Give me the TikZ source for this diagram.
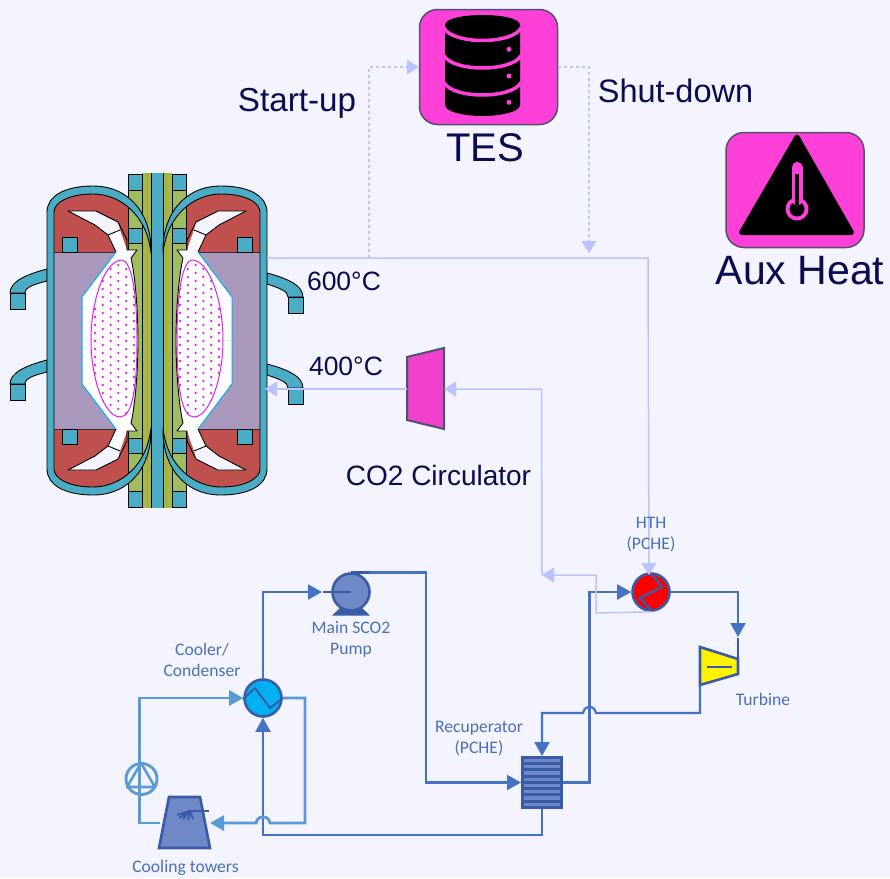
\documentclass[tikz,border=0pt]{standalone}
\usepackage{fontspec}
\setmainfont{Liberation Sans}
\newfontfamily\lblfont{Carlito}
\usetikzlibrary{arrows.meta}
\definecolor{bgc}{HTML}{F4F4FF}
\definecolor{navy}{HTML}{0B0B50}
\definecolor{lav}{HTML}{BCC4FF}
\definecolor{fdark}{HTML}{4472C4}
\definecolor{flight}{HTML}{5B9BD5}
\definecolor{edgeblue}{HTML}{3A5CA8}
\definecolor{fillblue}{HTML}{6F88C8}
\definecolor{lbl}{HTML}{4A6FB8}
\definecolor{pinkbox}{HTML}{FF40D8}
\definecolor{pinkedge}{HTML}{505070}
\definecolor{circpink}{HTML}{F040CC}
\definecolor{shell}{HTML}{4BACC6}
\definecolor{redwall}{HTML}{C0504D}
\definecolor{purp}{HTML}{A898BC}
\definecolor{greenw}{HTML}{A0BC60}
\definecolor{olivew}{HTML}{A2B850}
\definecolor{goldl}{HTML}{B8A020}
\definecolor{plasma}{HTML}{E020F0}
\definecolor{cyanl}{HTML}{00B0F0}
\tikzset{
  ftip/.tip={Triangle[length=14pt,width=15pt]},
  ltip/.tip={Triangle[length=12pt,width=15pt]},
  flow/.style={draw=fdark,line width=2.2pt,line join=miter},
  lflow/.style={draw=flight,line width=2.9pt,line join=miter},
  lavline/.style={draw=lav,line width=1.5pt},
  lavdash/.style={draw=lav,line width=1.2pt,dash pattern=on 3pt off 3pt},
  equip/.style={draw=edgeblue,line width=2.6pt,line join=miter},
  exch/.style={circle,draw=edgeblue,line width=2.6pt,minimum size=37pt,inner sep=0pt,outer sep=1.3pt},
  iconbox/.style={draw=pinkedge,fill=pinkbox,line width=1.5pt,rounded corners=18pt,minimum width=138pt,minimum height=115pt,inner sep=0pt},
  bluepart/.style={fill=shell,draw=black,line width=0.9pt},
  bigt/.style={text=navy,inner sep=0pt,font=\fontsize{40}{40}\selectfont},
  midt/.style={text=navy,inner sep=0pt,font=\fontsize{32.5}{32.5}\selectfont},
  tempt/.style={text=navy,inner sep=0pt,font=\fontsize{26.5}{26.5}\selectfont},
  circt/.style={text=navy,inner sep=0pt,font=\fontsize{28}{28}\selectfont},
  smallt/.style={text=lbl,inner sep=0pt,align=center,font=\lblfont\fontsize{17.6}{21}\selectfont},
}
\newcommand{\quarterpart}{%
  % white chamber
  \fill[white] (116,252) -- (108,235) -- (120,230) -- (127,250) -- (137,250) -- (131,258)
     .. controls (135,275) and (138,310) .. (138,340.5) -- (82,340.5) -- (82,297) -- cycle;
  \fill[bgc] (108,235) -- (95,225) -- (68,211) -- (96,211) -- (118,222) -- (120,230) -- cycle;
  \draw[black,line width=0.9pt,line join=round] (116,252) -- (108,235) -- (95,225) -- (68,211) -- (96,211) -- (118,222) -- (127,240) -- (127,250) -- (137,250) -- (131,258)
     .. controls (135,275) and (138,310) .. (138,340.5);
  \draw[black,line width=0.9pt] (108,235) -- (120,230);
  \draw[cyanl,line width=1pt] (116,252) -- (82,297) -- (82,340.5);
  % small block
  \draw[bluepart] (62,237) rectangle (77,252);
  % column blocks
  \draw[bluepart] (128,174) rectangle (142,190);
  \draw[bluepart] (128,228) rectangle (142,243);
}
\newcommand{\halfreactor}{%
  % red walls, stopping at the green column
  \begin{scope}
  \clip (40,180) rectangle (128,500);
  \fill[redwall] (54,252) -- (54,212) .. controls (54,203) and (68,194) .. (93,194)
     .. controls (120,194) and (147,215) .. (151,253) -- cycle;
  \begin{scope}[yshift=-681pt,yscale=-1]
  \fill[redwall] (54,252) -- (54,212) .. controls (54,203) and (68,194) .. (93,194)
     .. controls (120,194) and (147,215) .. (151,253) -- cycle;
  \end{scope}
  \end{scope}
  % green column
  \fill[greenw] (128,190) rectangle (142,491);
  \draw[black,line width=0.9pt] (128,190) -- (128,252) (128,429) -- (128,491) (142,174) -- (142,508);
  % purple blanket
  \fill[purp] (54,252) rectangle (116,429);
  \draw[black!70!purp,line width=1pt] (54,252) -- (116,252);
  \draw[black!70!purp,line width=1pt] (54,429) -- (116,429);
  \quarterpart
  \begin{scope}[yshift=-681pt,yscale=-1]
  \quarterpart
  \end{scope}
  % plasma
  \begin{scope}
    \clip (122,260) .. controls (133,262) and (137,300) .. (137,340) .. controls (137,385) and (133,417) .. (120,417)
      .. controls (105,417) and (91,380) .. (91,340) .. controls (91,300) and (105,260) .. (122,260);
    \fill[white] (85,255) rectangle (140,420);
    \foreach \c in {0,...,5} \foreach \r in {0,...,19}
      \fill[plasma] ({95+7.8*\c},{265+8*\r+4*mod(\c+1,2)}) circle (1.3pt);
  \end{scope}
  \draw[plasma,line width=1pt] (122,260) .. controls (133,262) and (137,300) .. (137,340) .. controls (137,385) and (133,417) .. (120,417)
      .. controls (105,417) and (91,380) .. (91,340) .. controls (91,300) and (105,260) .. (122,260);
  % vessel shell
  \draw[bluepart,line join=round] (151,253) .. controls (152,215) and (130,186) .. (93,186)
     .. controls (65,186) and (47,196) .. (47,212) -- (47,469)
     .. controls (47,485) and (65,495) .. (93,495)
     .. controls (130,495) and (152,466) .. (151,428)
     .. controls (147,466) and (120,487) .. (93,487)
     .. controls (68,487) and (54,478) .. (54,469) -- (54,212)
     .. controls (54,203) and (68,194) .. (93,194)
     .. controls (120,194) and (147,215) .. (151,253) -- cycle;
}
\begin{document}
\begin{tikzpicture}[x=1pt,y=-1pt]
\path[use as bounding box,fill=bgc] (0,0) rectangle (890,878);

% ---------- central column strips ----------
\fill[shell] (151,173) rectangle (163,508);
\fill[olivew] (142,173) rectangle (151,508);
\fill[olivew] (163,173) rectangle (172,508);
\draw[goldl,line width=1pt] (147,173) -- (147,508) (166.5,173) -- (166.5,508);
\draw[black,line width=0.9pt] (151,173) -- (151,508) (163,173) -- (163,508);

% ---------- ports ----------
\draw[bluepart] (47,269) .. controls (28,274) and (10,281) .. (10,293) -- (25,293) .. controls (25,287) and (35,284) .. (47,281) -- cycle;
\draw[bluepart] (10,293) rectangle (25,309);
\draw[bluepart] (47,360) .. controls (28,365) and (10,372) .. (10,384) -- (25,384) .. controls (25,378) and (35,375) .. (47,372) -- cycle;
\draw[bluepart] (10,384) rectangle (25,400);
\draw[bluepart] (267,273) .. controls (286,278) and (303,285) .. (303,297) -- (288,297) .. controls (288,291) and (279,288) .. (267,284) -- cycle;
\draw[bluepart] (288,297) rectangle (303,313);
\draw[bluepart] (267,364) .. controls (286,369) and (303,376) .. (303,388) -- (288,388) .. controls (288,382) and (279,379) .. (267,375) -- cycle;
\draw[bluepart] (288,388) rectangle (303,404);

% ---------- reactor halves ----------
\halfreactor
\begin{scope}[xshift=314pt,xscale=-1]
\halfreactor
\end{scope}

% ---------- icons ----------
\node[iconbox] (tes) at (488.5,67) {};
\fill[black] (445,25) .. controls (445,18) and (465,15) .. (482.5,15) .. controls (500,15) and (520,18) .. (520,25)
  -- (520,105) .. controls (520,112) and (500,116) .. (482.5,116) .. controls (465,116) and (445,112) .. (445,105) -- cycle;
\foreach \d in {0,27.5,54.5}{
  \draw[pinkbox,line width=3.5pt] (444,{28+\d}) .. controls (448,{36+\d}) and (465,{40.5+\d}) .. (482.5,{40.5+\d}) .. controls (500,{40.5+\d}) and (517,{36+\d}) .. (521,{28+\d});
}
\fill[pinkbox] (509,49.3) circle (2.5pt) (509,76) circle (2.5pt) (509,102.3) circle (2.5pt);
\node[bigt] (testxt) at (485,148) {TES};

\node[iconbox] (aux) at (795,190) {};
\fill[black,draw=black,line width=5pt,line join=round] (797,137) -- (741.5,232.5) -- (851.5,232.5) -- cycle;
\fill[pinkbox] (797,209) circle (11.5pt);
\fill[black] (797,209) circle (7.5pt);
\draw[pinkbox,line width=11pt,line cap=round] (797,167.5) -- (797,200);
\draw[black,line width=4pt] (797,174) -- (797,205);
\node[bigt,font=\fontsize{41}{41}\selectfont] (auxtxt) at (800,271) {Aux Heat};

\node[midt,font=\fontsize{33.2}{33.2}\selectfont] (startup) at (297,103.5) {Start-up};
\node[midt] (shutdown) at (675.5,91) {Shut-down};
\node[tempt] (t600) at (344,281) {600°C};
\node[tempt] (t400) at (346,366) {400°C};
\node[circt] (circlbl) at (438.5,475) {CO2 Circulator};

% ---------- circulator ----------
\draw[fill=circpink,draw=pinkedge,line width=2pt,line join=miter] (407,357) -- (444,348) -- (444,429) -- (407,420) -- cycle;
\coordinate (circL) at (407,389);
\coordinate (circR) at (444,389);

% ---------- equipment of the power cycle ----------
\node[exch,fill=red] (hth) at (651,592) {};
\node[exch,fill=cyanl] (cooler) at (263,698) {};
\fill[edgeblue] (340,608) -- (332,615.5) -- (370,615.5) -- (362,608) -- cycle;
\node[exch,fill=fillblue] (pump) at (351,592) {};
\draw[equip] (323,592) -- (351,592);
\coordinate (pumpIn) at (322,592);
\draw[equip,line width=2.4pt] (351,572.5) -- (369,572.5);
\coordinate (pumpOut) at (369,572.5);

\node[rectangle,fill=edgeblue,minimum width=42pt,minimum height=53pt,inner sep=0pt,outer sep=0pt] (recup) at (542,782.5) {};
\foreach \y in {760.5,766.7,773,779.3,785.7,791.7,798,804.3}
  \fill[fillblue] (524,{\y-1.6}) rectangle (560,{\y+1.6});

% turbine
\draw[equip,fill=yellow] (700,647) -- (738,659) -- (738,674) -- (700,685) -- cycle;
\draw[equip] (707,667) -- (732,667);
\draw[equip] (738,638) -- (738,659);
\coordinate (turbIn) at (738,637);
\coordinate (turbOut) at (700,685);

% cooling tower
\draw[equip,fill=fillblue] (169,797) -- (200,797) -- (210,848) -- (159,848) -- cycle;
\node[circle,inner sep=0pt,minimum size=2pt] (spray) at (188,811) {};
\draw[edgeblue,line width=2.4pt] (209,811) -- (188,811);
\draw[edgeblue,line width=1.8pt] (190,811) -- (177,815) (190,811) -- (179,818) (190,811) -- (183,819) (190,811) -- (188,820) (190,811) -- (193,819);
\coordinate (towerIn) at (210,823);
\coordinate (towerOut) at (160,823);

% water pump
\node[circle,draw=flight,line width=2.9pt,minimum size=31pt,inner sep=0pt,outer sep=0pt] (wpump) at (141.5,779) {};
\draw[flight,line width=2.6pt,line join=round] (141,763) -- (127,787) -- (155,787) -- cycle;

% ---------- flow connectors ----------
\coordinate (b1) at (426,572.5);
\coordinate (b2) at (426,782.5);
\draw[flow,-{ftip}] (pumpOut) -- (b1) -- (b2) -- (recup.west);
\coordinate (b3) at (589.5,782.5);
\coordinate (b4) at (589.5,592);
\draw[flow,-{ftip}] (recup.east) -- (b3) -- (b4) -- (hth.west);
\coordinate (b5) at (738,592);
\draw[flow,-{ftip}] (hth.east) -- (b5) -- (turbIn);
\coordinate (b6) at (700,713);
\coordinate (b7) at (542,713);
\draw[flow,-{ftip}] (turbOut) -- (b6) -- (596,713) .. controls (595,709) and (593,707) .. (589.5,707) .. controls (586,707) and (584,709) .. (583,713) -- (b7) -- (recup.north);
\coordinate (b8) at (542,835);
\coordinate (b9) at (263,835);
\draw[flow,-{ftip}] (recup.south) -- (b8) -- (b9) -- (cooler.south);
\coordinate (b10) at (263,592);
\draw[flow,-{ftip}] (cooler.north) -- (b10) -- (pumpIn);

\coordinate (c1) at (305,698);
\coordinate (c2) at (305,823);
\draw[lflow,-{ftip}] (cooler.east) -- (c1) -- (c2) -- (270,823) .. controls (269,819) and (267,817) .. (263,817) .. controls (259,817) and (257,819) .. (256,823) -- (towerIn);
\coordinate (c3) at (139.5,823);
\coordinate (c4) at (139.5,698);
\draw[lflow,-{ftip}] (towerOut) -- (c3) -- (c4) -- (cooler.west);

% zigzags over exchangers
\draw[edgeblue,line width=2.4pt,line join=miter] (652,574) -- (662,587) -- (640,598) -- (652,611);
\draw[edgeblue,line width=2pt,line join=miter] (243,699) -- (255,688) -- (270,708) -- (283,698);

% ---------- lavender connectors ----------
\coordinate (hotOut) at (267,258);
\coordinate (hotCorner) at (648,258);
\coordinate (hthIn) at (649,575);
\draw[lavline,-{ltip}] (hotOut) -- (hotCorner) -- (hthIn);
\coordinate (tee1) at (369,258);
\draw[lavdash,-{ltip}] (tee1) |- (tes.west);
\coordinate (shutEnd) at (589,253);
\draw[lavdash,-{ltip}] (tes.east) -| (shutEnd);
\coordinate (r1) at (596,613);
\coordinate (r2) at (596,575);
\coordinate (r3) at (542,575);
\draw[lavline,-{ltip}] (hth.south) -- (r1) -- (r2) -- (r3);
\coordinate (r4) at (541.5,389);
\draw[lavline,-{ltip}] (r3) -- (r4) -- (circR);
\coordinate (coldIn) at (265,389);
\draw[lavline,-{ltip}] (circL) -- (coldIn);

% ---------- small labels ----------
\node[smallt] (lblhth) at (651,534.5) {HTH\\(PCHE)};
\node[smallt] (lblturb) at (763,699) {Turbine};
\node[smallt] (lblrec) at (479,738.5) {Recuperator\\(PCHE)};
\node[smallt] (lblcool) at (202,659.5) {Cooler/\\Condenser};
\node[smallt] (lbltower) at (185.5,868) {Cooling towers};
\node[smallt] (lblpump) at (351,639.5) {Main SCO2\\Pump};
\end{tikzpicture}
\end{document}
